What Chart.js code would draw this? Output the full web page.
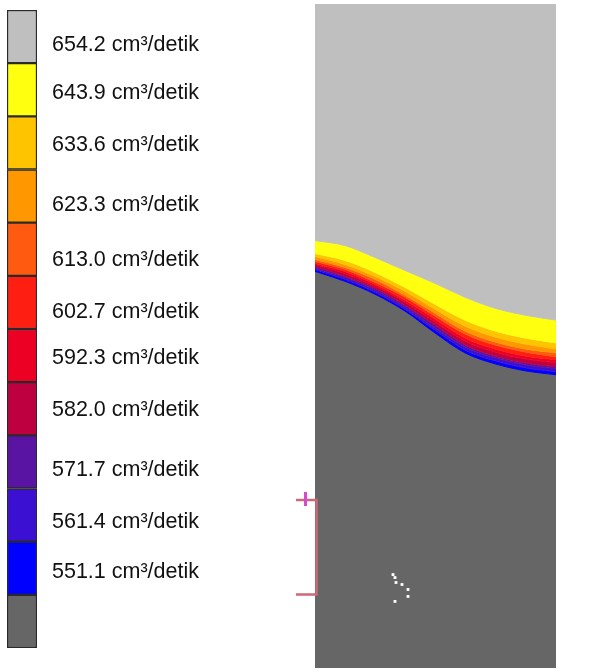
<!DOCTYPE html>
<html>
<head>
<meta charset="utf-8">
<script src="https://cdn.jsdelivr.net/npm/chart.js@4/dist/chart.umd.min.js"></script>
<style>
	html, body { margin: 0; padding: 0; background: #fff; }
	#wrap { position: relative; width: 598px; height: 672px; overflow: hidden; }
	#legendChart { position: absolute; left: 0; top: 0; }
	#fieldChart { position: absolute; left: 280px; top: 0; }
</style>
</head>
<body>
<div id="wrap">
	<canvas id="legendChart" width="290" height="672"></canvas>
	<canvas id="fieldChart" width="318" height="672"></canvas>
</div>
<script>
// contour levels, bottom to top (cm3/detik)
const levels = [551.1, 561.4, 571.7, 582.0, 592.3, 602.7, 613.0, 623.3, 633.6, 643.9, 654.2];
// where each label sits on the colour bar (in segments from the bottom)
const labelPositions = [1.43, 2.37, 3.35, 4.48, 5.45, 6.32, 7.30, 8.33, 9.46, 10.44, 11.34];
// colour bar segments, bottom to top
const bandColors = ["#666666", "#0000ff", "#3c10d2", "#5a14a4", "#be0040", "#ec0024", "#ff1e12", "#ff5a10", "#ff9800", "#ffc400", "#ffff10", "#bfbfbf"];

// sample columns across the channel (cm)
const xCells = [0, 3, 6, 9, 12, 15, 18, 21, 24.1];
// height (cm) of the lower edge of each coloured band, top to bottom
const edge6542 = [43.0, 42.5, 41.3, 40.0, 38.7, 37.3, 36.2, 35.5, 35.0];
const edge6439 = [41.7, 41.0, 39.8, 38.3, 36.6, 35.0, 33.9, 33.2, 32.7];
const edge6336 = [41.4, 40.6, 39.4, 37.9, 36.1, 34.4, 33.3, 32.6, 32.1];
const edge6233 = [41.1, 40.3, 39.1, 37.5, 35.7, 33.9, 32.8, 32.1, 31.7];
const edge6130 = [40.9, 40.1, 38.8, 37.3, 35.4, 33.6, 32.5, 31.8, 31.3];
const edge6027 = [40.7, 39.9, 38.6, 37.0, 35.1, 33.2, 32.1, 31.4, 31.0];
const edge5923 = [40.6, 39.7, 38.4, 36.8, 34.8, 32.9, 31.8, 31.1, 30.7];
const edge5820 = [40.4, 39.4, 38.2, 36.5, 34.5, 32.5, 31.4, 30.7, 30.3];
const edge5717 = [40.2, 39.3, 38.0, 36.3, 34.2, 32.3, 31.2, 30.5, 30.1];
const edge5614 = [40.1, 39.1, 37.8, 36.1, 34.0, 32.0, 30.9, 30.2, 29.8];
const edge5511 = [39.9, 38.9, 37.6, 35.9, 33.7, 31.7, 30.6, 29.9, 29.5];

// probe marker and particles
const markerX = [-1.9, 0.15, 0.15, -1.9];
const markerY = [16.9, 16.9, 7.4, 7.4];
const crossX = [-0.95, -0.95];
const crossY = [17.7, 16.3];
const particleX = [7.8, 8.0, 8.1, 8.7, 9.3, 9.3, 8.0];
const particleY = [9.4, 9.1, 8.6, 8.4, 7.9, 7.2, 6.7];

const domainWidth = 24.1;
const domainHeight = 66.8;

window.addEventListener(
	"load",
	function () {
		const font = { family: "'Liberation Sans', Arial, sans-serif", size: 21.5 };

		//colour bar
		const barSets = bandColors.map(function (c) {
			return {
				data: [1],
				backgroundColor: c,
				borderColor: "#2a2a2a",
				borderWidth: 1.5,
				borderSkipped: false,
				barPercentage: 1,
				categoryPercentage: 1,
			};
		});

		new Chart(document.getElementById("legendChart"), {
			type: "bar",
			data: { labels: [""], datasets: barSets },
			options: {
				responsive: false,
				animation: false,
				layout: { padding: { left: 7, top: 10, bottom: 24, right: 0 } },
				plugins: { legend: { display: false }, tooltip: { enabled: false } },
				scales: {
					x: { stacked: true, display: false },
					y: {
						stacked: true,
						position: "right",
						min: 0,
						max: 12,
						grid: { display: false, drawTicks: false },
						border: { display: false },
						afterFit: function (scale) {
							scale.width = 253;
							scale.paddingTop = 0;
							scale.paddingBottom = 0;
						},
						afterBuildTicks: function (scale) {
							scale.ticks = labelPositions.map(function (v) {
								return { value: v };
							});
						},
						ticks: {
							autoSkip: false,
							padding: 15,
							color: "#111",
							font: font,
							callback: function (value, index) {
								return levels[index].toFixed(1) + " cm\u00b3/detik";
							},
						},
					},
				},
			},
		});

		//contour field
		const edges = [edge6542, edge6439, edge6336, edge6233, edge6130, edge6027, edge5923, edge5820, edge5717, edge5614, edge5511];
		const toPoints = function (xs, ys) {
			return xs.map(function (x, i) {
				return { x: x, y: ys[i] };
			});
		};

		const datasets = [
			{
				data: toPoints(particleX, particleY),
				showLine: false,
				pointStyle: "rect",
				pointRadius: 2,
				pointBackgroundColor: "#ffffff",
				pointBorderWidth: 0,
				fill: false,
			},
			{
				data: toPoints(crossX, crossY),
				borderColor: "#d24ccc",
				borderWidth: 3,
				pointRadius: 0,
				fill: false,
			},
			{
				data: toPoints(markerX, markerY),
				borderColor: "#cc6878",
				borderWidth: 2.5,
				pointRadius: 0,
				fill: false,
			},
		];

		// band fills: first one up to the top of the domain, the rest up to the previous edge
		edges.forEach(function (ys, i) {
			const c = bandColors[bandColors.length - 1 - i];
			datasets.push({
				data: toPoints(xCells, ys),
				backgroundColor: c,
				borderColor: c,
				borderWidth: 1,
				pointRadius: 0,
				cubicInterpolationMode: "monotone",
				fill: i === 0 ? "end" : "-1",
			});
		});
		datasets.push({
			data: toPoints(xCells, edge5511),
			backgroundColor: bandColors[0],
			borderColor: bandColors[0],
			borderWidth: 1,
			pointRadius: 0,
			cubicInterpolationMode: "monotone",
			fill: "start",
		});

		new Chart(document.getElementById("fieldChart"), {
			type: "line",
			data: { datasets: datasets },
			options: {
				responsive: false,
				animation: false,
				layout: { padding: { left: 10, right: 42, top: 4, bottom: 0 } },
				plugins: { legend: { display: false }, tooltip: { enabled: false } },
				scales: {
					x: { type: "linear", min: -2.5, max: domainWidth, display: false },
					y: { type: "linear", min: 0, max: domainHeight, display: false },
				},
				elements: { point: { radius: 0 } },
			},
		});
	},
	false
);
</script>
</body>
</html>
